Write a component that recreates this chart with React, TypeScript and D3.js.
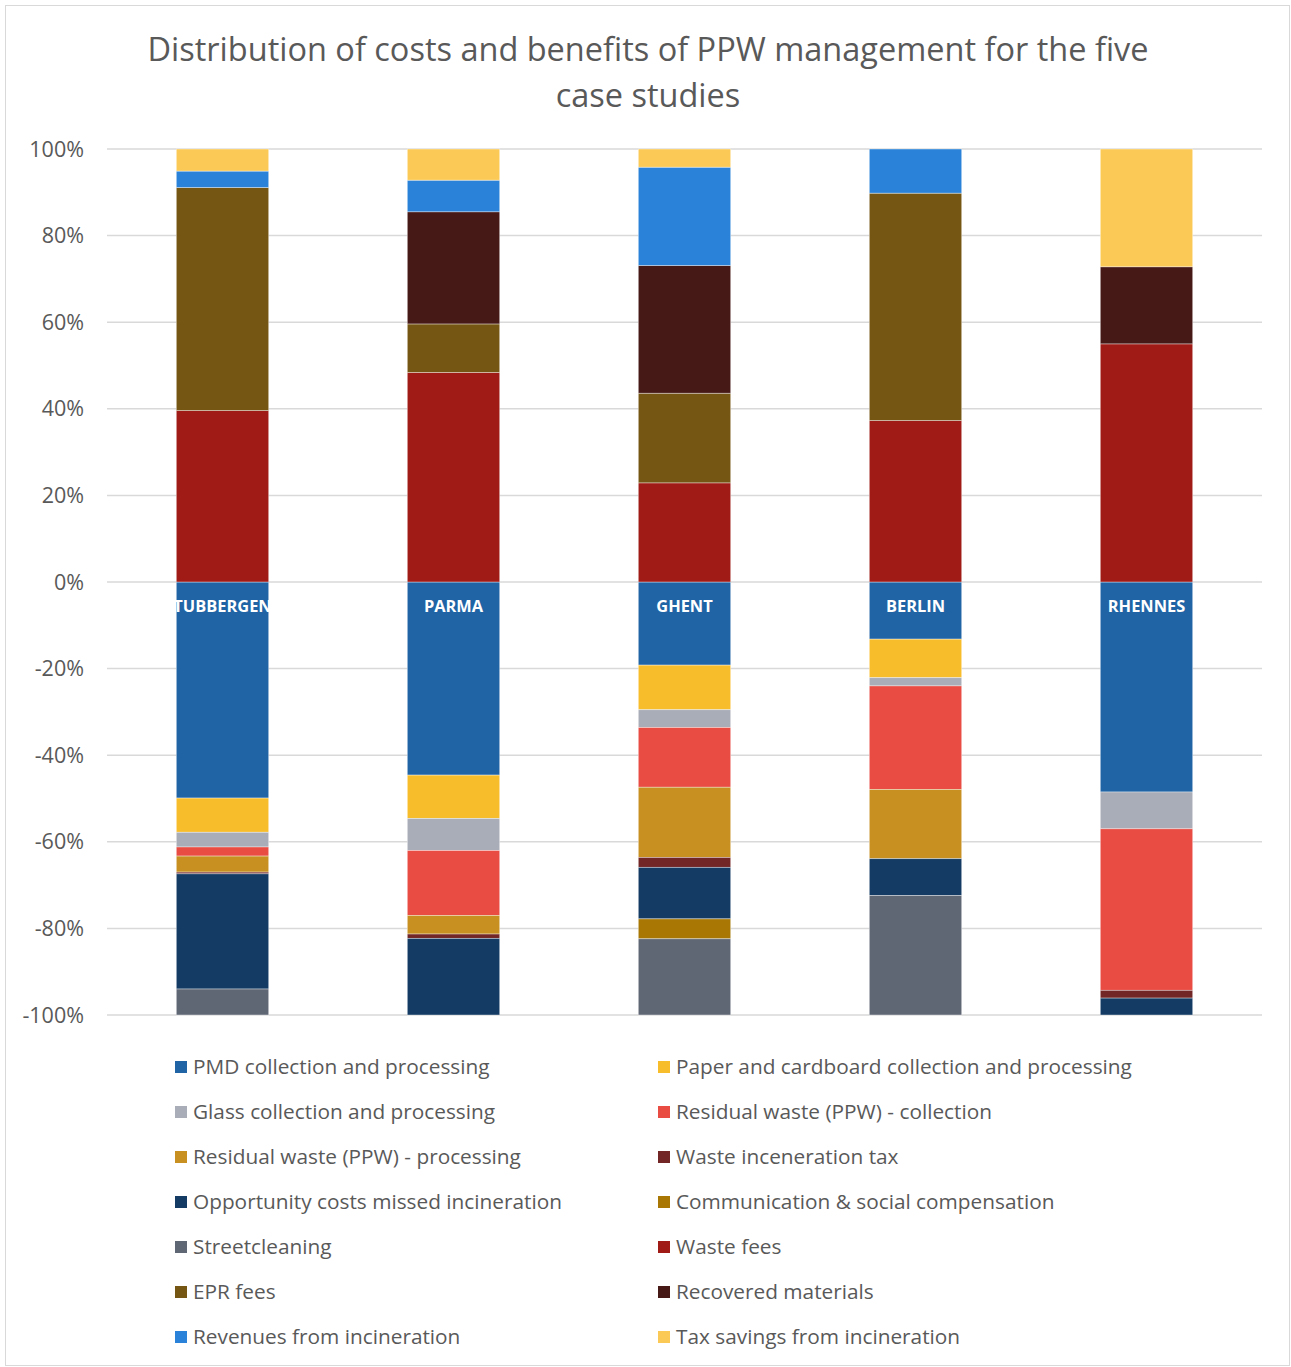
import React from "react";
import * as d3 from "d3";

const categories = ["TUBBERGEN", "PARMA", "GHENT", "BERLIN", "RHENNES"];

// costs (negative) — stacked downward in this order
const pmd = [-49.9, -44.6, -19.2, -13.2, -48.5];
const paper = [-7.9, -10.0, -10.3, -8.9, 0];
const glass = [-3.4, -7.4, -4.1, -1.9, -8.5];
const residualCollection = [-2.1, -15.0, -13.8, -23.9, -37.3];
const residualProcessing = [-3.7, -4.3, -16.2, -16.0, 0];
const incinerationTax = [-0.4, -1.0, -2.3, 0, -1.8];
const opportunityCosts = [-26.6, -17.7, -11.9, -8.5, -3.9];
const communication = [0, 0, -4.6, 0, 0];
const streetcleaning = [-6.0, 0, -17.6, -27.6, 0];
// benefits (positive) — stacked upward in this order
const wasteFees = [39.6, 48.4, 22.9, 37.3, 55.0];
const eprFees = [51.5, 11.2, 20.7, 52.5, 0];
const recoveredMaterials = [0, 25.9, 29.5, 0, 17.8];
const revenuesIncineration = [3.8, 7.3, 22.7, 10.2, 0];
const taxSavings = [5.1, 7.2, 4.2, 0, 27.2];

const yTicks = [-100, -80, -60, -40, -20, 0, 20, 40, 60, 80, 100];

const series = [
  { key: "PMD collection and processing", values: pmd, color: "#2064a6" },
  { key: "Paper and cardboard collection and processing", values: paper, color: "#f8bd2a" },
  { key: "Glass collection and processing", values: glass, color: "#a8adb8" },
  { key: "Residual waste (PPW) - collection", values: residualCollection, color: "#e84c42" },
  { key: "Residual waste (PPW) - processing", values: residualProcessing, color: "#c79021" },
  { key: "Waste inceneration tax", values: incinerationTax, color: "#722626" },
  { key: "Opportunity costs missed incineration", values: opportunityCosts, color: "#133b63" },
  { key: "Communication & social compensation", values: communication, color: "#a97804" },
  { key: "Streetcleaning", values: streetcleaning, color: "#5f6775" },
  { key: "Waste fees", values: wasteFees, color: "#a01b15" },
  { key: "EPR fees", values: eprFees, color: "#765613" },
  { key: "Recovered materials", values: recoveredMaterials, color: "#461816" },
  { key: "Revenues from incineration", values: revenuesIncineration, color: "#2b83d9" },
  { key: "Tax savings from incineration", values: taxSavings, color: "#fbc956" },
];

const legendOrder = [
  "PMD collection and processing",
  "Paper and cardboard collection and processing",
  "Glass collection and processing",
  "Residual waste (PPW) - collection",
  "Residual waste (PPW) - processing",
  "Waste inceneration tax",
  "Opportunity costs missed incineration",
  "Communication & social compensation",
  "Streetcleaning",
  "Waste fees",
  "EPR fees",
  "Recovered materials",
  "Revenues from incineration",
  "Tax savings from incineration",
];

export default function App() {
  const W = 1291;
  const H = 1367;
  const left = 107;
  const right = 1262;
  const top = 149;
  const bottom = 1015;
  const font = "'Open Sans', sans-serif";

  const x = d3.scaleBand<string>().domain(categories).range([left, right]).paddingInner(0.6).paddingOuter(0.3);
  const y = d3.scaleLinear().domain([-100, 100]).range([bottom, top]);

  const table = categories.map((c, i) => {
    const row: any = { cat: c };
    series.forEach((s) => (row[s.key] = s.values[i]));
    return row;
  });
  const stacked = d3
    .stack<any>()
    .keys(series.map((s) => s.key))
    .offset(d3.stackOffsetDiverging)(table);

  const colorOf = new Map(series.map((s) => [s.key, s.color]));

  return (
    <svg width={W} height={H} style={{ position: "absolute", left: 0, top: 0, background: "#fff" }}>
      <rect x={5.5} y={5.5} width={1284} height={1360} fill="#fff" stroke="#d9d9d9" strokeWidth={1} />
      <text x={648} y={61} textAnchor="middle" fontFamily={font} fontSize={32.5} fill="#595959">
        Distribution of costs and benefits of PPW management for the five
      </text>
      <text x={648} y={107} textAnchor="middle" fontFamily={font} fontSize={32.5} fill="#595959">
        case studies
      </text>
      {yTicks.map((t) => (
        <g key={t}>
          <line x1={left} x2={right} y1={y(t)} y2={y(t)} stroke="#d9d9d9" strokeWidth={1.5} />
          <text x={84} y={y(t)} dy="0.35em" textAnchor="end" fontFamily={font} fontSize={21.5} fill="#595959">
            {t}%
          </text>
        </g>
      ))}
      {stacked.map((layer) => (
        <g key={layer.key} fill={colorOf.get(layer.key)}>
          {layer.map((d, i) => {
            const y0 = Math.max(d[0], d[1]);
            const y1 = Math.min(d[0], d[1]);
            if (y0 - y1 <= 0) return null;
            return (
              <rect
                key={i}
                x={x(categories[i])}
                width={x.bandwidth()}
                y={y(y0)}
                height={y(y1) - y(y0)}
                stroke="#ffffff"
                strokeOpacity={0.5}
                strokeWidth={0.75}
              />
            );
          })}
        </g>
      ))}
      {categories.map((c) => (
        <text
          key={c}
          x={(x(c) as number) + x.bandwidth() / 2}
          y={606}
          dy="0.35em"
          textAnchor="middle"
          fontFamily={font}
          fontSize={16.4}
          fontWeight="bold"
          fill="#ffffff"
        >
          {c}
        </text>
      ))}
      {legendOrder.map((k, i) => {
        const col = i % 2;
        const row = Math.floor(i / 2);
        const lx = col === 0 ? 175 : 658;
        const ly = 1067 + row * 45;
        return (
          <g key={k}>
            <rect x={lx} y={ly - 6} width={12} height={12} fill={colorOf.get(k)} />
            <text x={lx + 18} y={ly} dy="0.35em" fontFamily={font} fontSize={20.8} fill="#595959">
              {k}
            </text>
          </g>
        );
      })}
    </svg>
  );
}
